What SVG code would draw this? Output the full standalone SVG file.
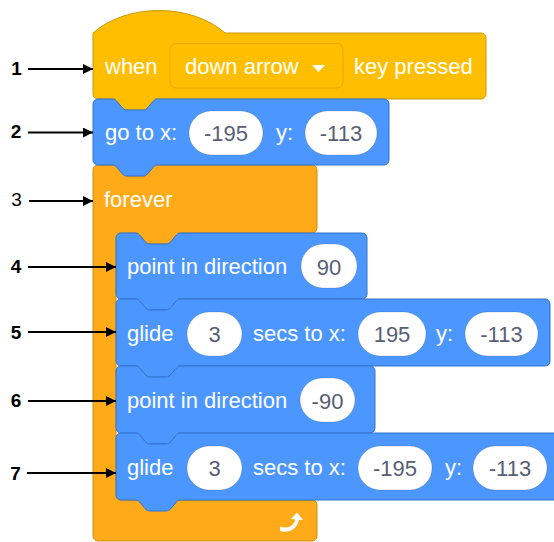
<svg xmlns="http://www.w3.org/2000/svg" width="554" height="542" viewBox="0 0 554 542">
  <style>
    .lbl { font-family: "Liberation Sans", Arial, sans-serif; font-size: 22px; fill: #ffffff; }
    .val { font-family: "Liberation Sans", Arial, sans-serif; font-size: 22px; fill: #575e75; text-anchor: middle; }
    .num { font-family: "Liberation Sans", Arial, sans-serif; font-size: 19px; font-weight: bold; fill: #000000; text-anchor: middle; }
    .event { fill: #ffbf00; stroke: #cc9900; stroke-width: 1; }
    .motion { fill: #4c97ff; stroke: #3373cc; stroke-width: 1; }
    .control { fill: #ffab19; stroke: #cf8b17; stroke-width: 1; }
    .oval { fill: #ffffff; stroke: rgba(0,0,0,0.12); stroke-width: 1; }
    .pointer { stroke: #000000; stroke-width: 2; fill: none; marker-end: url(#head); }
  </style>
  <defs>
    <marker id="head" viewBox="0 0 10 10" refX="10" refY="5" markerWidth="5.5" markerHeight="5" markerUnits="strokeWidth" orient="auto">
      <path d="M0,0 L10,5 L0,10 Z" fill="#000000"/>
    </marker>
  </defs>

  <rect width="554" height="542" fill="#ffffff"/>

  <!-- forever (C block, drawn first so the stacked blocks sit on top) -->
  <g id="forever">
    <path class="control" d="M93,170 a5,5 0 0 1 5,-5 H113 c2,0 3,1.5 4.5,3 l4.5,5.5 c1.5,1.5 3,2.5 5,2.5 h16 c2,0 3.5,-1 5,-2.5 l4.5,-5.5 c1.5,-1.5 2.5,-3 4.5,-3 H312 a5,5 0 0 1 5,5 V228 a5,5 0 0 1 -5,5 H180 c-2,0 -3,1.5 -4.5,3 l-4.5,5.5 c-1.5,1.5 -3,2.5 -5,2.5 h-16 c-2,0 -3.5,-1 -5,-2.5 l-4.5,-5.5 c-1.5,-1.5 -2.5,-3 -4.5,-3 H121 a5,5 0 0 0 -5,5 V495 a5,5 0 0 0 5,5 H312 a5,5 0 0 1 5,5 V536 a5,5 0 0 1 -5,5 H98 a5,5 0 0 1 -5,-5 Z"/>
    <text class="lbl" x="104" y="207">forever</text>
    <path d="M280,526.5 C287,529 293,527 295.5,519.5 L291,519 L297,512.5 L303,520 L299,520 C296.5,530 288,533.5 280,531 Z" fill="#ffffff"/>
  </g>

  <!-- when [down arrow] key pressed -->
  <g id="hat">
    <path class="event" d="M93,33 c34,-30 98,-30 132,0 H481 a5,5 0 0 1 5,5 V94 a5,5 0 0 1 -5,5 H157 c-2,0 -3,1.5 -4.5,3 l-4.5,5.5 c-1.5,1.5 -3,2.5 -5,2.5 h-16 c-2,0 -3.5,-1 -5,-2.5 l-4.5,-5.5 c-1.5,-1.5 -2.5,-3 -4.5,-3 H98 a5,5 0 0 1 -5,-5 Z"/>
    <text class="lbl" x="105" y="74">when</text>
    <rect x="170" y="43.5" width="173" height="44.5" rx="6" fill="#ffbf00" stroke="#e6a800" stroke-width="1"/>
    <text class="lbl" x="185" y="74">down arrow</text>
    <path d="M312,65 H325 L318.5,72 Z" fill="#ffffff"/>
    <text class="lbl" x="354" y="74">key pressed</text>
  </g>

  <!-- go to x: y: -->
  <g id="goto">
    <path class="motion" d="M93,104 a5,5 0 0 1 5,-5 H113 c2,0 3,1.5 4.5,3 l4.5,5.5 c1.5,1.5 3,2.5 5,2.5 h16 c2,0 3.5,-1 5,-2.5 l4.5,-5.5 c1.5,-1.5 2.5,-3 4.5,-3 H384 a5,5 0 0 1 5,5 V160 a5,5 0 0 1 -5,5 H157 c-2,0 -3,1.5 -4.5,3 l-4.5,5.5 c-1.5,1.5 -3,2.5 -5,2.5 h-16 c-2,0 -3.5,-1 -5,-2.5 l-4.5,-5.5 c-1.5,-1.5 -2.5,-3 -4.5,-3 H98 a5,5 0 0 1 -5,-5 Z"/>
    <text class="lbl" x="105" y="140">go to x:</text>
    <rect class="oval" x="189" y="111" width="74" height="44" rx="22"/>
    <text class="val" x="226" y="141">-195</text>
    <text class="lbl" x="276" y="140">y:</text>
    <rect class="oval" x="305" y="111" width="72" height="44" rx="22"/>
    <text class="val" x="341" y="141">-113</text>
  </g>

  <!-- point in direction 90 -->
  <g id="point90">
    <path class="motion" d="M116,238 a5,5 0 0 1 5,-5 H136 c2,0 3,1.5 4.5,3 l4.5,5.5 c1.5,1.5 3,2.5 5,2.5 h16 c2,0 3.5,-1 5,-2.5 l4.5,-5.5 c1.5,-1.5 2.5,-3 4.5,-3 H362 a5,5 0 0 1 5,5 V294 a5,5 0 0 1 -5,5 H180 c-2,0 -3,1.5 -4.5,3 l-4.5,5.5 c-1.5,1.5 -3,2.5 -5,2.5 h-16 c-2,0 -3.5,-1 -5,-2.5 l-4.5,-5.5 c-1.5,-1.5 -2.5,-3 -4.5,-3 H121 a5,5 0 0 1 -5,-5 Z"/>
    <text class="lbl" x="127" y="274">point in direction</text>
    <rect class="oval" x="301" y="244" width="56" height="44" rx="22"/>
    <text class="val" x="329" y="275">90</text>
  </g>

  <!-- glide 3 secs to x: 195 y: -113 -->
  <g id="glide1">
    <path class="motion" d="M116,304 a5,5 0 0 1 5,-5 H136 c2,0 3,1.5 4.5,3 l4.5,5.5 c1.5,1.5 3,2.5 5,2.5 h16 c2,0 3.5,-1 5,-2.5 l4.5,-5.5 c1.5,-1.5 2.5,-3 4.5,-3 H545 a5,5 0 0 1 5,5 V361 a5,5 0 0 1 -5,5 H180 c-2,0 -3,1.5 -4.5,3 l-4.5,5.5 c-1.5,1.5 -3,2.5 -5,2.5 h-16 c-2,0 -3.5,-1 -5,-2.5 l-4.5,-5.5 c-1.5,-1.5 -2.5,-3 -4.5,-3 H121 a5,5 0 0 1 -5,-5 Z"/>
    <text class="lbl" x="127" y="341">glide</text>
    <rect class="oval" x="187" y="312" width="55" height="44" rx="22"/>
    <text class="val" x="214.5" y="342">3</text>
    <text class="lbl" x="253" y="341">secs to x:</text>
    <rect class="oval" x="358" y="312" width="68" height="44" rx="22"/>
    <text class="val" x="392" y="342">195</text>
    <text class="lbl" x="436" y="341">y:</text>
    <rect class="oval" x="465" y="312" width="73" height="44" rx="22"/>
    <text class="val" x="501.5" y="342">-113</text>
  </g>

  <!-- point in direction -90 -->
  <g id="point-90">
    <path class="motion" d="M116,371 a5,5 0 0 1 5,-5 H136 c2,0 3,1.5 4.5,3 l4.5,5.5 c1.5,1.5 3,2.5 5,2.5 h16 c2,0 3.5,-1 5,-2.5 l4.5,-5.5 c1.5,-1.5 2.5,-3 4.5,-3 H370 a5,5 0 0 1 5,5 V428 a5,5 0 0 1 -5,5 H180 c-2,0 -3,1.5 -4.5,3 l-4.5,5.5 c-1.5,1.5 -3,2.5 -5,2.5 h-16 c-2,0 -3.5,-1 -5,-2.5 l-4.5,-5.5 c-1.5,-1.5 -2.5,-3 -4.5,-3 H121 a5,5 0 0 1 -5,-5 Z"/>
    <text class="lbl" x="127" y="408">point in direction</text>
    <rect class="oval" x="300" y="378" width="55" height="44" rx="22"/>
    <text class="val" x="327.5" y="409">-90</text>
  </g>

  <!-- glide 3 secs to x: -195 y: -113 -->
  <g id="glide2">
    <path class="motion" d="M116,438 a5,5 0 0 1 5,-5 H136 c2,0 3,1.5 4.5,3 l4.5,5.5 c1.5,1.5 3,2.5 5,2.5 h16 c2,0 3.5,-1 5,-2.5 l4.5,-5.5 c1.5,-1.5 2.5,-3 4.5,-3 H575 a5,5 0 0 1 5,5 V495 a5,5 0 0 1 -5,5 H180 c-2,0 -3,1.5 -4.5,3 l-4.5,5.5 c-1.5,1.5 -3,2.5 -5,2.5 h-16 c-2,0 -3.5,-1 -5,-2.5 l-4.5,-5.5 c-1.5,-1.5 -2.5,-3 -4.5,-3 H121 a5,5 0 0 1 -5,-5 Z"/>
    <text class="lbl" x="127" y="475">glide</text>
    <rect class="oval" x="187" y="446" width="55" height="44" rx="22"/>
    <text class="val" x="214.5" y="476">3</text>
    <text class="lbl" x="253" y="475">secs to x:</text>
    <rect class="oval" x="358" y="446" width="74" height="44" rx="22"/>
    <text class="val" x="395" y="476">-195</text>
    <text class="lbl" x="445" y="475">y:</text>
    <rect class="oval" x="473" y="446" width="74" height="44" rx="22"/>
    <text class="val" x="510" y="476">-113</text>
  </g>

  <!-- numbered callouts -->
  <g id="callouts">
    <text class="num" x="16.5" y="75">1</text>
    <text class="num" x="16" y="137.5">2</text>
    <text class="num" x="16.5" y="206" style="font-weight:normal">3</text>
    <text class="num" x="16" y="273">4</text>
    <text class="num" x="16" y="339">5</text>
    <text class="num" x="16" y="407">6</text>
    <text class="num" x="15.5" y="480">7</text>
    <path class="pointer" d="M28,69 H93"/>
    <path class="pointer" d="M28,132.5 H93"/>
    <path class="pointer" d="M29,201 H93"/>
    <path class="pointer" d="M28,267 H116"/>
    <path class="pointer" d="M28,332 H116"/>
    <path class="pointer" d="M28,401 H116"/>
    <path class="pointer" d="M27,473 H116"/>
  </g>
</svg>
